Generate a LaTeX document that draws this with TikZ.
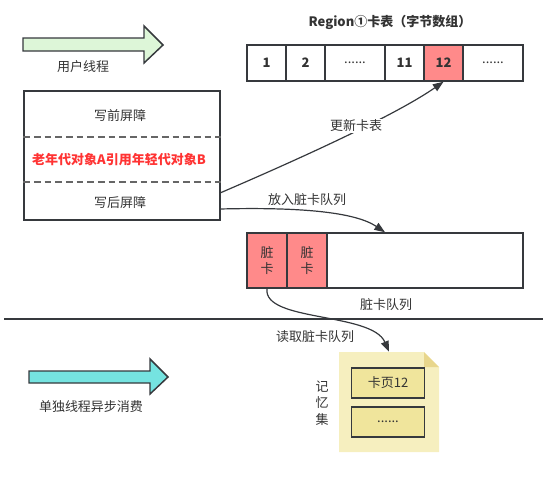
\documentclass[tikz,border=0pt]{standalone}
\usepackage{fontspec}
\setmainfont{Noto Sans CJK SC}
\usetikzlibrary{arrows.meta}
\definecolor{ln}{HTML}{36393D}
\definecolor{txt}{HTML}{333333}
\definecolor{dashc}{HTML}{666666}
\definecolor{redfill}{HTML}{FF8A8A}
\definecolor{redtxt}{HTML}{FF3333}
\definecolor{greenfill}{HTML}{DDF6D8}
\definecolor{cyanfill}{HTML}{75E3E0}
\definecolor{notefill}{HTML}{F6EFBF}
\definecolor{notefold}{HTML}{E8D68C}
\definecolor{pagefill}{HTML}{F0E59C}
\begin{document}
\begin{tikzpicture}[x=0.75pt,y=-0.75pt,
  font=\fontsize{9.75}{12.4}\selectfont, text=txt,
  cell/.style={draw=ln, line width=1.1pt, minimum height=27pt, inner sep=0pt, fill=white},
  dcell/.style={draw=ln, line width=1.1pt, minimum height=41.25pt, inner sep=0pt},
  page/.style={draw=ln, line width=1.1pt, fill=pagefill, minimum width=54.75pt, minimum height=22.5pt, inner sep=0pt},
  lbl/.style={inner sep=1pt},
  conn/.style={draw=ln, line width=0.9pt, -{Triangle[length=8pt,width=6pt]}},
  bigarrow/.style={draw=ln, line width=1.1pt},
  sepdash/.style={dashc, line width=1.1pt, dash pattern=on 5pt off 3pt}
]
\useasboundingbox (0,0) rectangle (547,486);

% user thread arrow
\path[bigarrow, fill=greenfill] (23,38) -- (144,38) -- (144,26) -- (163,45) -- (144,63) -- (144,51) -- (23,51) -- cycle;
\node[lbl] (ut) at (83,67) {用户线程};

% card table
\node[lbl] (title) at (390,22) {\textbf{Region①卡表（字节数组）}};
\node[cell, minimum width=29.25pt] (c1) at (266.5,63) {\textbf{1}};
\node[cell, minimum width=29.25pt] (c2) at (305.5,63) {\textbf{2}};
\node[cell, minimum width=45pt] (c3) at (355,63) {......};
\node[cell, minimum width=29.25pt] (c4) at (404.5,63) {\textbf{11}};
\node[cell, minimum width=29.25pt, fill=redfill] (c5) at (443.5,63) {\textbf{12}};
\node[cell, minimum width=45pt] (c6) at (493,63) {......};

% barrier box
\node[draw=ln, line width=1.1pt, minimum width=147pt, minimum height=96.75pt, inner sep=0pt] (lb) at (122,155.5) {};
\draw[sepdash] (lb.west |- 0,137) -- (lb.east |- 0,137);
\draw[sepdash] (lb.west |- 0,182) -- (lb.east |- 0,182);
\node[lbl] (wb1) at (120,116) {写前屏障};
\node[lbl, text=redtxt] (ref) at (119,160) {\textbf{老年代对象A引用年轻代对象B}};
\node[lbl] (wb2) at (120,203) {写后屏障};
\coordinate (s1) at (220,193);
\coordinate (s2) at (220,209);

% dirty card queue
\node[dcell, minimum width=207pt, fill=white] (dq) at (385,260.5) {};
\node[dcell, minimum width=30pt, fill=redfill, align=center] (d1) at (267,260.5) {脏\\卡};
\node[dcell, minimum width=30pt, fill=redfill, align=center] (d2) at (307,260.5) {脏\\卡};
\node[lbl] (dql) at (386,305) {脏卡队列};

% connectors
\draw[conn] (s1) .. controls (320,150) and (400,112) .. (c5.south);
\node[lbl, fill=white] (l1) at (356,126) {更新卡表};
\draw[conn] (s2) .. controls (300,207) and (355,212) .. (dq.north);
\node[lbl] (l2) at (307,200) {放入脏卡队列};

% separator
\coordinate (sepL) at (4,319);
\coordinate (sepR) at (543,319);
\draw[ln, line width=1.5pt] (sepL) -- (sepR);

% remembered set (note shape)
\node[minimum width=75pt, minimum height=75pt, inner sep=0pt] (ms) at (389,402) {};
\fill[notefill] (339,352) -- (424,352) -- (439,367) -- (439,452) -- (339,452) -- cycle;
\fill[notefold] (424,352) -- (439,367) -- (424,367) -- cycle;
\node[page] (k1) at (388,383) {卡页12};
\node[page] (k2) at (388,422) {......};
\node[lbl, align=center] (rs) at (322,403) {记\\忆\\集};

\draw[conn] (d1.south) .. controls (263,322) and (372,312) .. (ms.north);
\node[lbl] (l3) at (315,337) {读取脏卡队列};

% async consumer arrow
\path[bigarrow, fill=cyanfill] (29,371) -- (150,371) -- (150,359) -- (168,377) -- (150,394) -- (150,383) -- (29,383) -- cycle;
\node[lbl] (at) at (91,407) {单独线程异步消费};
\end{tikzpicture}
\end{document}
